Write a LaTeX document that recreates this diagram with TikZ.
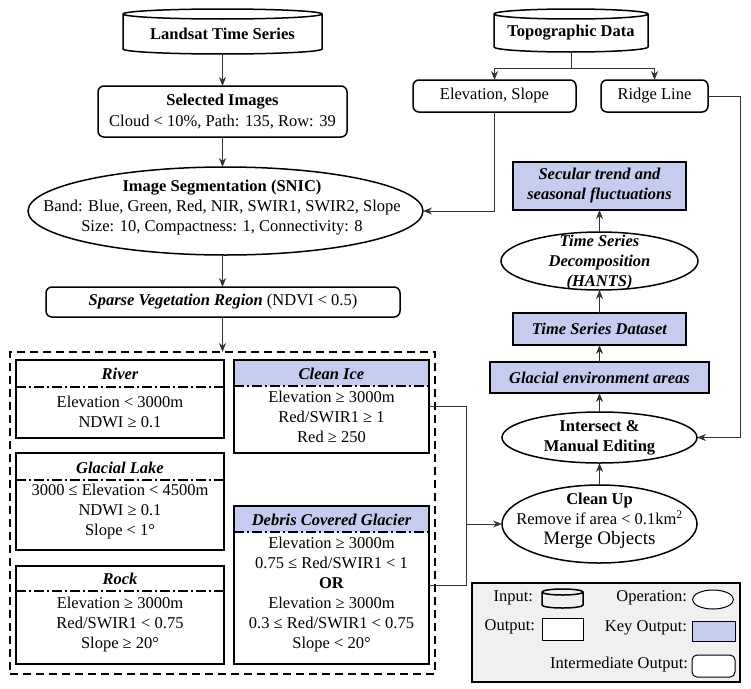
\documentclass[tikz,border=0pt]{standalone}
\usepackage{fontspec}
\setmainfont{Liberation Serif}
\usetikzlibrary{shapes.geometric, calc, arrows.meta, positioning}
\definecolor{KEYBLUE}{RGB}{197,204,240}
\definecolor{LEGENDGRAY}{RGB}{240,240,240}
\definecolor{LINEGRAY}{RGB}{50,50,50}
% cylinder drawn round a named node, #2 = radius of the end ellipse
\newcommand{\cylaround}[2]{%
  \draw[boxline] let \p1=(#1.north west), \p2=(#1.south east), \n1={(\x2-\x1)/2} in
    (\x1,\y1) -- (\x1,\y2+#2) arc[start angle=180, end angle=360, x radius={\n1*1pt}, y radius=#2]
    -- (\x2,\y1) arc[start angle=0, end angle=180, x radius={\n1*1pt}, y radius=#2] -- cycle
    (\x1,\y1) arc[start angle=180, end angle=360, x radius={\n1*1pt}, y radius=#2];}

\begin{document}
\begin{tikzpicture}[x=1pt, y=-1pt,
    font=\fontsize{16.5}{20}\selectfont,
    every node/.style={inner sep=0pt, outer sep=0pt, align=center},
    wh/.style 2 args={minimum width=#1, minimum height=#2},
    boxline/.style={line width=1.5pt, draw=black},
    cylnode/.style={rectangle},
    midbox/.style={rectangle, boxline, rounded corners=6pt},
    outbox/.style={rectangle, boxline},
    keybox/.style={rectangle, boxline, fill=KEYBLUE},
    keyhead/.style={outbox, path picture={\fill[KEYBLUE] (path picture bounding box.north west) rectangle ([yshift=-#1]path picture bounding box.north east);}},
    opell/.style={ellipse, boxline},
    zonebox/.style={rectangle, line width=1.5pt, draw=black, dash pattern=on 8pt off 5pt},
    dashdot/.style={line width=1.5pt, dash pattern=on 10pt off 3pt on 2pt off 3pt},
    ttl/.style={font=\fontsize{16.5}{20}\selectfont\bfseries\itshape},
    arr/.style={-{Stealth[length=9pt,width=7pt]}, line width=0.9pt, draw=LINEGRAY},
    link/.style={line width=0.9pt, draw=LINEGRAY}]
    \useasboundingbox (0,0) rectangle (751,688);

    % left column
    \node[cylnode, wh={199}{40}] (landsat) at (222.5,34) {\bfseries Landsat Time Series};
    \cylaround{landsat}{5pt}
    \node[midbox, wh={249}{51}] (sel) at (222.5,111.5) {\bfseries Selected Images\\[1pt] Cloud < 10\%, Path: 135, Row: 39};
    \node[opell, wh={395}{88}] (seg) at (225.5,211) {};
    \node (segtext) at (222,208) {\fontsize{16.5}{22.5}\selectfont\bfseries Image Segmentation (SNIC)\\
        \fontsize{16.5}{22.5}\selectfont Band: Blue, Green, Red, NIR, SWIR1, SWIR2, Slope\\
        Size: 10, Compactness: 1, Connectivity: 8};
    \node[midbox, wh={354}{30}] (sparse) at (223,302) {{\bfseries\itshape Sparse Vegetation Region} (NDVI < 0.5)};
    \node[zonebox, wh={425}{322}] (zone) at (222.5,513) {};

    % classes
    \node[outbox, wh={208}{78}] (river) at (120,399) {};
    \node[ttl] (rivertitle) at (120,374) {River};
    \draw[dashdot] (river.west |- 0,387) -- (river.east |- 0,387);
    \node (riverbody) at (120,412) {Elevation < 3000m\\NDWI ≥ 0.1};

    \node[outbox, wh={208}{97}] (lake) at (120,501.5) {};
    \node[ttl] (laketitle) at (120,468) {Glacial Lake};
    \draw[dashdot] (lake.west |- 0,480) -- (lake.east |- 0,480);
    \node (lakebody) at (120,512) {3000 ≤ Elevation < 4500m\\NDWI ≥ 0.1\\Slope < 1°};

    \node[outbox, wh={208}{98}] (rock) at (120,615) {};
    \node[ttl] (rocktitle) at (120,579) {Rock};
    \draw[dashdot] (rock.west |- 0,591) -- (rock.east |- 0,591);
    \node (rockbody) at (120,625) {Elevation ≥ 3000m\\Red/SWIR1 < 0.75\\Slope ≥ 20°};

    \node[keyhead=26pt, wh={195}{93}] (ice) at (331.5,406.5) {};
    \node[ttl] (icetitle) at (331.5,374) {Clean Ice};
    \draw[dashdot] (ice.west |- 0,386) -- (ice.east |- 0,386);
    \node (icebody) at (331.5,417) {Elevation ≥ 3000m\\Red/SWIR1 ≥ 1\\Red ≥ 250};

    \node[keyhead=26pt, wh={195}{158}] (debris) at (331.5,585) {};
    \node[ttl] (debristitle) at (331.5,520) {Debris Covered Glacier};
    \draw[dashdot] (debris.west |- 0,532) -- (debris.east |- 0,532);
    \node (debrisbody) at (331.5,595) {\fontsize{16.5}{20.4}\selectfont Elevation ≥ 3000m\\0.75 ≤ Red/SWIR1 < 1\\
        \textbf{OR}\\Elevation ≥ 3000m\\0.3 ≤ Red/SWIR1 < 0.75\\Slope < 20°};

    % right column
    \node[cylnode, wh={154}{38}] (topo) at (571,33) {\bfseries Topographic Data};
    \cylaround{topo}{5pt}
    \node[midbox, wh={163}{32}] (elev) at (494.5,96) {Elevation, Slope};
    \node[midbox, wh={107}{32}] (ridge) at (654.5,96) {Ridge Line};
    \node[keybox, wh={173}{48}] (secular) at (599.5,186) {\bfseries\itshape Secular trend and\\\bfseries\itshape seasonal fluctuations};
    \node[opell, wh={197}{58}] (decomp) at (599.5,261) {};
    \node[ttl] (decomptext) at (599.5,263) {Time Series\\Decomposition\\(HANTS)};
    \node[keybox, wh={173}{32}] (dataset) at (599.5,329) {\bfseries\itshape Time Series Dataset};
    \node[keybox, wh={219}{31}] (env) at (599.5,377.5) {\bfseries\itshape Glacial environment areas};
    \node[opell, wh={195}{51}] (inter) at (599.5,437.5) {};
    \node (intertext) at (599.5,438) {\bfseries Intersect \&\\\bfseries Manual Editing};
    \node[opell, wh={195}{78}] (cleanup) at (599.5,524) {};
    \node (cleantext) at (599.5,521) {\fontsize{16.5}{22}\selectfont\bfseries Clean Up\\
        \fontsize{16.5}{20}\selectfont Remove if area < 0.1km\textsuperscript{2}\\
        \fontsize{19}{20}\selectfont Merge Objects};

    % connectors
    \draw[arr] (landsat.south) -- (sel.north);
    \draw[arr] (sel.south) -- (sel.south |- seg.north);
    \draw[arr] (seg.south -| sel.south) -- (sel.south |- sparse.north);
    \draw[arr] (sel.south |- sparse.south) -- (sel.south |- zone.north);
    \coordinate (split) at (571,68);
    \draw[link] (topo.south) -- (split);
    \draw[arr] (split) -| (elev.north);
    \draw[arr] (split) -| (ridge.north);
    \draw[arr] (elev.south) |- (seg.east);
    \draw[arr] (ridge.east) -- ++(32,0) |- (inter.east);
    \coordinate (join) at (466,524);
    \draw[link] (ice.east) -| (join);
    \draw[link] (debris.east) -| (join);
    \draw[arr] (join) -- (cleanup.west);
    \draw[arr] (cleanup.north) -- (inter.south);
    \draw[arr] (inter.north) -- (env.south);
    \draw[arr] (env.north) -- (dataset.south);
    \draw[arr] (dataset.north) -- (decomp.south);
    \draw[arr] (decomp.north) -- (secular.south);

    % legend
    \node[rectangle, boxline, fill=LEGENDGRAY, wh={268}{99}] (legend) at (606,632.5) {};
    \node[anchor=east] (inputlabel) at (533,598) {Input:};
    \node[cylnode, wh={41}{16}] (legcyl) at (562.5,600) {};
    \cylaround{legcyl}{3pt}
    \node[anchor=east] (oplabel) at (687,598) {Operation:};
    \node[ellipse, draw=black, line width=1pt, fill=white, wh={41}{19}] (legell) at (713,599.5) {};
    \node[anchor=east] (outlabel) at (535,627) {Output:};
    \node[rectangle, draw=black, line width=1pt, fill=white, wh={41}{22}] (legout) at (562.5,629) {};
    \node[anchor=east] (keylabel) at (687,628) {Key Output:};
    \node[rectangle, draw=black, line width=1pt, fill=KEYBLUE, wh={43}{20}] (legkey) at (713.5,631) {};
    \node[anchor=east] (midlabel) at (688,665) {Intermediate Output:};
    \node[rectangle, draw=black, line width=1pt, fill=white, rounded corners=5pt, wh={43}{22}] (legmid) at (713.5,666) {};
\end{tikzpicture}
\end{document}
